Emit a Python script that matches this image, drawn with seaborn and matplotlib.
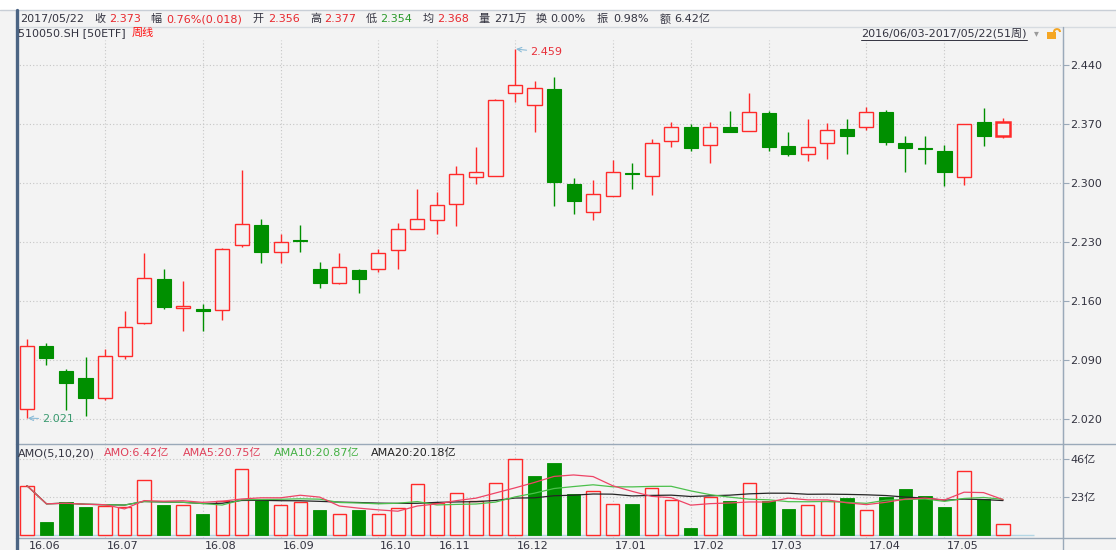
import numpy as np
import pandas as pd
import matplotlib
matplotlib.use("Agg")
import matplotlib.pyplot as plt
import matplotlib.transforms as mtransforms
from matplotlib.lines import Line2D
from matplotlib.patches import Rectangle, Arc
import seaborn as sns

# weekly bars 510050.SH, 2016/06/03 - 2017/05/22 (51 weeks)
opens = [2.032, 2.107, 2.077, 2.069, 2.045, 2.095, 2.134, 2.186, 2.152, 2.151,
         2.149, 2.227, 2.250, 2.218, 2.232, 2.198, 2.181, 2.197, 2.198, 2.220,
         2.245, 2.256, 2.275, 2.307, 2.308, 2.407, 2.392, 2.411, 2.299, 2.266,
         2.285, 2.312, 2.308, 2.350, 2.367, 2.345, 2.367, 2.362, 2.383, 2.344,
         2.334, 2.348, 2.364, 2.366, 2.384, 2.347, 2.341, 2.338, 2.307, 2.373,
         2.356]
highs = [2.115, 2.110, 2.079, 2.094, 2.103, 2.148, 2.217, 2.198, 2.184, 2.156,
         2.223, 2.316, 2.257, 2.239, 2.250, 2.206, 2.217, 2.198, 2.222, 2.252,
         2.293, 2.289, 2.320, 2.343, 2.400, 2.459, 2.421, 2.426, 2.306, 2.304,
         2.327, 2.324, 2.352, 2.372, 2.370, 2.372, 2.385, 2.407, 2.385, 2.360,
         2.376, 2.371, 2.376, 2.390, 2.387, 2.356, 2.356, 2.345, 2.370, 2.389,
         2.377]
lows = [2.021, 2.084, 2.031, 2.024, 2.043, 2.091, 2.133, 2.151, 2.125, 2.125,
        2.138, 2.224, 2.205, 2.205, 2.218, 2.176, 2.180, 2.170, 2.195, 2.198,
        2.245, 2.239, 2.249, 2.299, 2.308, 2.396, 2.361, 2.273, 2.263, 2.256,
        2.285, 2.293, 2.286, 2.343, 2.338, 2.324, 2.360, 2.362, 2.338, 2.332,
        2.326, 2.328, 2.335, 2.363, 2.345, 2.313, 2.323, 2.296, 2.298, 2.344,
        2.354]
closes = [2.107, 2.093, 2.063, 2.045, 2.095, 2.129, 2.187, 2.153, 2.154, 2.148,
          2.222, 2.251, 2.218, 2.230, 2.231, 2.182, 2.200, 2.186, 2.217, 2.245,
          2.257, 2.274, 2.311, 2.313, 2.398, 2.416, 2.413, 2.301, 2.279, 2.287,
          2.313, 2.311, 2.348, 2.366, 2.342, 2.366, 2.361, 2.384, 2.343, 2.335,
          2.343, 2.363, 2.356, 2.384, 2.349, 2.341, 2.340, 2.313, 2.370, 2.356,
          2.373]
# turnover (亿)
amo = [29.9, 7.9, 20.0, 16.7, 17.3, 17.1, 33.1, 18.2, 18.0, 12.5,
       20.6, 39.8, 21.8, 18.0, 20.2, 14.9, 12.9, 15.3, 12.9, 16.1,
       30.7, 19.2, 25.2, 20.4, 31.7, 46.2, 35.7, 43.4, 24.8, 26.8,
       18.6, 18.6, 28.2, 21.0, 4.0, 23.2, 20.6, 31.3, 20.8, 15.7,
       18.0, 20.6, 22.4, 15.3, 22.8, 27.6, 23.8, 16.7, 38.7, 21.6, 6.42]

month_pos = [0, 4, 9, 13, 18, 21, 25, 30, 34, 38, 43, 47]
month_labels = ["16.06", "16.07", "16.08", "16.09", "16.10", "16.11", "16.12",
                "17.01", "17.02", "17.03", "17.04", "17.05"]
price_ticks = [2.020, 2.090, 2.160, 2.230, 2.300, 2.370, 2.440]
amo_ticks = [23, 46]

BG = "#f3f3f3"
RED = "#ff2a2a"
GREEN = "#008f00"
DARK = "#333340"
GRID = "#c6c6c6"
AXIS = "#9aa9b9"

sns.set_style("white")
plt.rcParams["font.family"] = ["DejaVu Sans", "Noto Sans CJK SC"]

W, H = 1116, 550


def fx(px):
    return px / W


def fy(py):
    return 1 - py / H


fig = plt.figure(figsize=(W / 100, H / 100), dpi=100, facecolor=BG)
ax = fig.add_axes([fx(16), fy(444), fx(1063) - fx(16), fy(40) - fy(444)], facecolor=BG)
axv = fig.add_axes([fx(16), fy(538), fx(1063) - fx(16), fy(444) - fy(538)], facecolor=BG)

o = np.array(opens)
h = np.array(highs)
l = np.array(lows)
c = np.array(closes)
v = np.array(amo)
x = np.arange(len(o))
up = c >= o

for a in (ax, axv):
    a.set_xlim(-0.56, 53.07)
    for s in ("left", "top", "bottom"):
        a.spines[s].set_visible(False)
    a.spines["right"].set_color(AXIS)
    a.yaxis.tick_right()
    a.tick_params(axis="y", length=4, color=AXIS, labelsize=8, labelcolor=DARK, pad=1)
    for p in month_pos[1:]:
        a.axvline(p, color=GRID, lw=0.8, ls=(0, (1, 2)), zorder=0)

ax.set_ylim(1.9904, 2.4697)
ax.set_xticks([])
ax.set_yticks(price_ticks)
ax.set_yticklabels([f"{t:.3f}" for t in price_ticks])
for t in price_ticks:
    ax.axhline(t, color=GRID, lw=0.8, ls=(0, (1, 2)), zorder=0)

# candles
wick_cols = [RED if u else GREEN for u in up]
ax.vlines(x, l, h, colors=wick_cols, lw=1.0, zorder=2)
body = np.maximum(np.abs(c - o), 0.0006)
ax.bar(x[up][:-1], body[up][:-1], bottom=o[up][:-1], width=0.72,
       facecolor=BG, edgecolor=RED, lw=1.0, zorder=3)
ax.bar(x[~up], body[~up], bottom=c[~up], width=0.72,
       facecolor=GREEN, edgecolor=GREEN, lw=0.8, zorder=3)
# current week highlighted
ax.bar(x[-1:], body[-1:], bottom=o[-1:], width=0.72,
       facecolor=BG, edgecolor=RED, lw=1.8, zorder=3)

imax = int(np.argmax(h))
imin = int(np.argmin(l))
ax.annotate(f"{h[imax]:.3f}", xy=(x[imax] + 0.05, h[imax]), xytext=(10, -2.4),
            textcoords="offset points", color="#e8303a", fontsize=8, va="center",
            arrowprops=dict(arrowstyle="->", color="#8cbcd8", lw=0.8,
                            shrinkA=0, shrinkB=0))
ax.annotate(f"{l[imin]:.3f}", xy=(x[imin] + 0.05, l[imin]), xytext=(10, -0.5),
            textcoords="offset points", color="#3a9a70", fontsize=8, va="center",
            arrowprops=dict(arrowstyle="->", color="#8cbcd8", lw=0.8,
                            shrinkA=0, shrinkB=0))

# volume panel
axv.set_ylim(-1.8, 55.1)
axv.set_yticks(amo_ticks)
axv.set_yticklabels([f"{t}亿" for t in amo_ticks])
for t in amo_ticks:
    axv.axhline(t, color=GRID, lw=0.8, ls=(0, (1, 2)), zorder=0)
prev = np.r_[o[0], c[:-1]]
vup = c >= prev
axv.bar(x[vup], v[vup], width=0.68, facecolor=BG, edgecolor=RED, lw=1.0, zorder=2)
axv.bar(x[~vup], v[~vup], width=0.68, facecolor=GREEN, edgecolor=GREEN, lw=0.6, zorder=2)
axv.hlines(0, x[0] - 0.6, x[-1] + 1.6, color="#b4d6e4", lw=1.0, zorder=1)

vs = pd.Series(v)
ma = pd.DataFrame({
    "x": x,
    "ma5": vs.rolling(5, min_periods=1).mean(),
    "ma10": vs.rolling(10, min_periods=1).mean(),
    "ma20": vs.rolling(20, min_periods=1).mean(),
})
sns.lineplot(data=ma, x="x", y="ma20", ax=axv, color="#262626", lw=0.9, zorder=4)
sns.lineplot(data=ma, x="x", y="ma10", ax=axv, color="#4cc04c", lw=0.9, zorder=4)
sns.lineplot(data=ma, x="x", y="ma5", ax=axv, color="#ee4466", lw=0.9, zorder=4)
axv.set_xlabel("")
axv.set_ylabel("")

axv.set_xticks(month_pos)
axv.tick_params(axis="x", direction="out", length=9, color=AXIS, labelbottom=False)
trans = mtransforms.blended_transform_factory(axv.transData, axv.transAxes)
for p, lab in zip(month_pos, month_labels):
    axv.text(p + 0.1, -0.085, lab, transform=trans, ha="left", va="center",
             fontsize=8, color=DARK)

# frame lines
fig.patches.append(Rectangle((0, fy(10)), 1, 1 - fy(10), transform=fig.transFigure,
                             facecolor="white", edgecolor="none"))
for xs, ys, col, lw in [
    ((0, 1), (fy(10), fy(10)), "#c8ced6", 1.0),
    ((fx(16), 1), (fy(27), fy(27)), "#d6dbe0", 1.0),
    ((fx(16), 1), (fy(444), fy(444)), AXIS, 1.0),
    ((fx(16), 1), (fy(538), fy(538)), AXIS, 1.0),
    ((fx(1063), fx(1063)), (fy(27), 0), AXIS, 1.0),
    ((fx(16.5), fx(16.5)), (fy(10), 0), "#4b6483", 2.4),
]:
    fig.lines.append(Line2D(xs, ys, transform=fig.transFigure, color=col, lw=lw))

# header rows
RED_T = "#e8282e"
header = [
    (20, "2017/05/22", DARK), (94.6, "收", DARK), (109, "2.373", RED_T),
    (150, "幅", DARK), (166, "0.76%(0.018)", RED_T),
    (252.5, "开", DARK), (268, "2.356", RED_T),
    (310, "高", DARK), (324, "2.377", RED_T),
    (366, "低", DARK), (380, "2.354", "#2a9a2a"),
    (423, "均", DARK), (437.5, "2.368", RED_T),
    (478.6, "量", DARK), (494.6, "271万", DARK),
    (535.7, "换", DARK), (550, "0.00%", DARK),
    (597, "振", DARK), (613, "0.98%", DARK),
    (659.6, "额", DARK), (674, "6.42亿", DARK),
]
for px, txt, col in header:
    fig.text(fx(px), fy(19), txt, color=col, fontsize=8, va="center", ha="left")

fig.text(fx(18), fy(33), "510050.SH [50ETF]", color=DARK, fontsize=8, va="center")
fig.text(fx(132), fy(33), "周线", color="#ff1010", fontsize=8, va="center")
rng = fig.text(fx(861), fy(33), "2016/06/03-2017/05/22(51周)", color=DARK,
               fontsize=8, va="center")
fig.canvas.draw()
bb = rng.get_window_extent(fig.canvas.get_renderer())
fig.lines.append(Line2D([bb.x0 / W, bb.x1 / W], [fy(39.5), fy(39.5)],
                        transform=fig.transFigure, color=DARK, lw=0.7))
fig.text(fx(1034), fy(33), "▾", color="#9a9a9a", fontsize=7, va="center")
fig.patches.append(Rectangle((fx(1047), fy(39)), fx(9), fy(32) - fy(39),
                             transform=fig.transFigure, facecolor="#f5a623",
                             edgecolor="none"))
fig.patches.append(Arc((fx(1057), fy(32)), fx(6), 6 / H, theta1=0, theta2=180,
                       transform=fig.transFigure, color="#f5a623", lw=1.5))

legend_items = [
    (18, "AMO(5,10,20)", DARK), (103.6, "AMO:6.42亿", "#e0405a"),
    (183, "AMA5:20.75亿", "#e0405a"), (274, "AMA10:20.87亿", "#44b044"),
    (371.4, "AMA20:20.18亿", "#222222"),
]
for px, txt, col in legend_items:
    fig.text(fx(px), fy(453), txt, color=col, fontsize=8, va="center", ha="left")

fig.savefig("out.png", dpi=100, facecolor=BG)
